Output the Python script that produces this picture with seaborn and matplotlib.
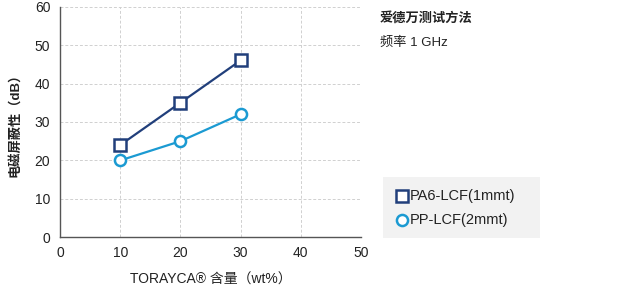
import matplotlib
matplotlib.use("Agg")
import matplotlib.pyplot as plt
import seaborn as sns
import pandas as pd
from matplotlib.lines import Line2D
from matplotlib.patches import Rectangle

content = [10, 20, 30]
pa6_lcf = [24, 35, 46]
pp_lcf = [20, 25, 32]
series_names = ["PA6-LCF(1mmt)", "PP-LCF(2mmt)"]
x_ticks = [0, 10, 20, 30, 40, 50]
y_ticks = [0, 10, 20, 30, 40, 50, 60]
note_lines = ["爱德万测试方法", "频率 1 GHz"]

df = pd.DataFrame({
    "x": content * 2,
    "y": pa6_lcf + pp_lcf,
    "s": [series_names[0]] * 3 + [series_names[1]] * 3,
})

sns.set_theme(style="white")
plt.rcParams["font.family"] = ["Liberation Sans", "Noto Sans CJK SC", "DejaVu Sans"]

fig = plt.figure(figsize=(6.23, 2.87), dpi=100)
ax = fig.add_axes([0.0963, 0.173, 0.4832, 0.804])

colors = {series_names[0]: "#213f7b", series_names[1]: "#1b9ad2"}
markers = {series_names[0]: "s", series_names[1]: "o"}
sns.lineplot(data=df, x="x", y="y", hue="s", style="s", palette=colors,
             markers=markers, dashes=False, markersize=8, markeredgewidth=1.8,
             linewidth=1.6, ax=ax, legend=False)
for line in ax.lines:
    line.set_markeredgecolor(line.get_color())
    line.set_markerfacecolor("white")

ax.set_xlim(0, 50)
ax.set_ylim(0, 60)
ax.set_xticks(x_ticks)
ax.set_yticks(y_ticks)
ax.grid(True, color="#d0d0d0", linestyle=(0, (3, 2)), linewidth=0.7)
for side in ["top", "right"]:
    ax.spines[side].set_visible(False)
for side in ["left", "bottom"]:
    ax.spines[side].set_color("#555555")
    ax.spines[side].set_linewidth(1.0)
ax.tick_params(axis="both", labelsize=10, colors="#222222", length=3, width=0.8, direction="out")
ax.tick_params(axis="y", pad=4)
ax.tick_params(axis="x", pad=3)
ax.set_xlabel("TORAYCA® 含量（wt%）", fontsize=10, color="#222222", labelpad=9)
ax.set_ylabel("电磁屏蔽性（dB）", fontsize=9.5, color="#222222", labelpad=10, fontweight="bold")

fig.text(380 / 623, 1 - 18 / 287, note_lines[0], fontsize=9.5, va="center", ha="left",
         color="#222222", fontweight="bold")
fig.text(380 / 623, 1 - 43 / 287, note_lines[1], fontsize=9.5, va="center", ha="left",
         color="#222222")

fig.patches.append(Rectangle((383 / 623, 1 - 238 / 287), (540 - 383) / 623, (238 - 177) / 287,
                             transform=fig.transFigure, facecolor="#f2f2f2", edgecolor="none", zorder=0))
legend_y = [196, 220]
for name, yy in zip(series_names, legend_y):
    fig.add_artist(Line2D([402 / 623], [1 - yy / 287], transform=fig.transFigure,
                          marker=markers[name], markersize=8, markerfacecolor="white",
                          markeredgecolor=colors[name], markeredgewidth=1.8, linestyle="none"))
    fig.text(410 / 623, 1 - yy / 287, name, fontsize=10.5, va="center", ha="left", color="#222222")

fig.savefig("out.png", dpi=100)
